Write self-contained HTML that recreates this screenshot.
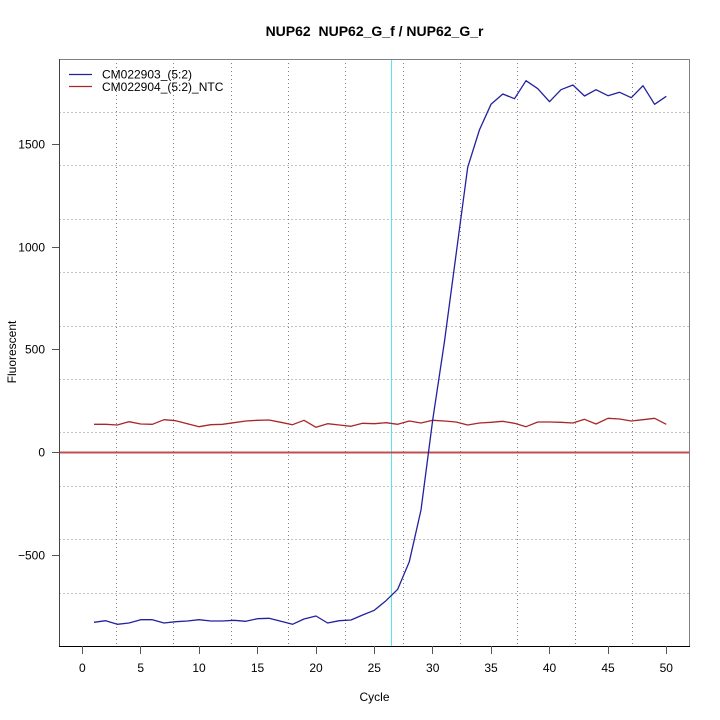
<!DOCTYPE html>
<html>
<head>
<meta charset="utf-8">
<style>
  html,body{margin:0;padding:0;background:#fff;}
  svg{display:block;}
  text{font-family:"Liberation Sans",Arial,sans-serif;fill:#000;}
</style>
</head>
<body>
<svg width="720" height="720" viewBox="0 0 720 720" xmlns="http://www.w3.org/2000/svg">
  <rect x="0" y="0" width="720" height="720" fill="#fff"/>
  <!-- horizontal grid -->
  <g stroke="#c4c4c4" stroke-width="1" stroke-dasharray="2,2">
    <line x1="59" y1="112.5" x2="690" y2="112.5"/>
    <line x1="59" y1="165.5" x2="690" y2="165.5"/>
    <line x1="59" y1="219.5" x2="690" y2="219.5"/>
    <line x1="59" y1="272.5" x2="690" y2="272.5"/>
    <line x1="59" y1="326.5" x2="690" y2="326.5"/>
    <line x1="59" y1="379.5" x2="690" y2="379.5"/>
    <line x1="59" y1="432.5" x2="690" y2="432.5"/>
    <line x1="59" y1="486.5" x2="690" y2="486.5"/>
    <line x1="59" y1="539.5" x2="690" y2="539.5"/>
    <line x1="59" y1="593.5" x2="690" y2="593.5"/>
  </g>
  <!-- vertical grid -->
  <g stroke="#808080" stroke-width="1" stroke-dasharray="1,3">
    <line x1="116.5" y1="59" x2="116.5" y2="646"/>
    <line x1="173.5" y1="59" x2="173.5" y2="646"/>
    <line x1="231.5" y1="59" x2="231.5" y2="646"/>
    <line x1="288.5" y1="59" x2="288.5" y2="646"/>
    <line x1="345.5" y1="59" x2="345.5" y2="646"/>
    <line x1="403.5" y1="59" x2="403.5" y2="646"/>
    <line x1="460.5" y1="59" x2="460.5" y2="646"/>
    <line x1="517.5" y1="59" x2="517.5" y2="646"/>
    <line x1="575.5" y1="59" x2="575.5" y2="646"/>
    <line x1="632.5" y1="59" x2="632.5" y2="646"/>
  </g>
  <!-- threshold / ct line -->
  <line x1="391.5" y1="59" x2="391.5" y2="646" stroke="#55e8e8" stroke-width="1"/>
  <!-- zero line -->
  <line x1="59" y1="452.5" x2="690" y2="452.5" stroke="#c05050" stroke-width="2"/>

  <!-- red series -->
  <polyline fill="none" stroke="#a82828" stroke-width="1.3" stroke-linejoin="round" points="
    94,424.3 105.7,424.3 117.3,425 129,421.7 140.7,424 152.4,424.3 164,419.7 175.7,420.7 187.4,423.7 199,426.7
    210.8,424.7 222.5,424.3 234,422.7 245.8,421 257.5,420.3 269,420 280.9,422.3 292.5,424.7 304,420.3 316,427.3
    327.6,423.7 339.3,425 351,426.3 362.6,423.3 374.3,423.7 386,422.7 397.7,424.3 409.3,421 421,423 432.7,420.3
    444.4,421 456,422 467.7,425 479.4,423 491,422.3 502.8,421.3 514.5,423.3 526,426.7 537.8,422 549.5,422
    561,422.3 572.9,423 584.5,419.3 596,424 608,418.3 619.6,419 631.3,421 643,419.7 654.6,418.3 666.3,424.3"/>

  <!-- blue series -->
  <polyline fill="none" stroke="#2222a0" stroke-width="1.3" stroke-linejoin="round" points="
    94,622.3 105.7,620.7 117.3,624.3 129,623 140.7,619.7 152.4,619.7 164,623 175.7,621.7 187.4,621 199,619.7
    210.8,621 222.5,621 234,620.3 245.8,621.3 257.5,618.7 269,618.3 280.9,621.3 292.5,624.3 304,619 316,616
    327.6,623 339.3,620.7 351,620 362.6,615 374.3,610.3 386,600.7 397.7,589.3 409.3,561.7 421,510 432.7,420
    444.4,342 456,255 467.7,167.3 479.4,130 491,104.3 502.8,94 514.5,98.7 526,80.7 537.8,88.7 549.5,101.7
    561,89.7 572.9,85 584.5,96 596,89.7 608,95.7 619.6,92.3 631.3,97.7 643,85.7 654.6,104.3 666.3,96.3"/>

  <!-- box -->
  <rect x="59.5" y="59.5" width="630" height="587" fill="none" stroke="#808080" stroke-width="1"/>
  <line x1="59.5" y1="59" x2="59.5" y2="647" stroke="#444" stroke-width="1"/>
  <line x1="59" y1="646.5" x2="690" y2="646.5" stroke="#000" stroke-width="1"/>

  <!-- x ticks -->
  <g stroke="#555" stroke-width="1">
    <line x1="82.5" y1="646" x2="82.5" y2="654"/>
    <line x1="140.5" y1="646" x2="140.5" y2="654"/>
    <line x1="199.5" y1="646" x2="199.5" y2="654"/>
    <line x1="257.5" y1="646" x2="257.5" y2="654"/>
    <line x1="316.5" y1="646" x2="316.5" y2="654"/>
    <line x1="374.5" y1="646" x2="374.5" y2="654"/>
    <line x1="432.5" y1="646" x2="432.5" y2="654"/>
    <line x1="491.5" y1="646" x2="491.5" y2="654"/>
    <line x1="549.5" y1="646" x2="549.5" y2="654"/>
    <line x1="608.5" y1="646" x2="608.5" y2="654"/>
    <line x1="666.5" y1="646" x2="666.5" y2="654"/>
  </g>
  <g font-size="12" text-anchor="middle">
    <text x="82.3" y="672">0</text>
    <text x="140.7" y="672">5</text>
    <text x="199" y="672">10</text>
    <text x="257.5" y="672">15</text>
    <text x="316" y="672">20</text>
    <text x="374.3" y="672">25</text>
    <text x="432.7" y="672">30</text>
    <text x="491" y="672">35</text>
    <text x="549.5" y="672">40</text>
    <text x="608" y="672">45</text>
    <text x="666.3" y="672">50</text>
  </g>

  <!-- y ticks -->
  <g stroke="#555" stroke-width="1">
    <line x1="52" y1="144.5" x2="59" y2="144.5"/>
    <line x1="52" y1="247.5" x2="59" y2="247.5"/>
    <line x1="52" y1="349.5" x2="59" y2="349.5"/>
    <line x1="52" y1="452.5" x2="59" y2="452.5"/>
    <line x1="52" y1="555.5" x2="59" y2="555.5"/>
  </g>
  <g font-size="12" text-anchor="end">
    <text x="45" y="148.5">1500</text>
    <text x="45" y="251.5">1000</text>
    <text x="45" y="353.5">500</text>
    <text x="45" y="456.5">0</text>
    <text x="45" y="559.5">−500</text>
  </g>

  <!-- axis titles -->
  <text x="374.5" y="701" font-size="12" text-anchor="middle">Cycle</text>
  <text transform="translate(16,352) rotate(-90)" font-size="12" text-anchor="middle">Fluorescent</text>
  <text x="374.5" y="36" font-size="14" font-weight="bold" text-anchor="middle">NUP62&#160; NUP62_G_f / NUP62_G_r</text>

  <!-- legend -->
  <line x1="69" y1="74.5" x2="92" y2="74.5" stroke="#2222a0" stroke-width="1.3"/>
  <line x1="69" y1="86.5" x2="92" y2="86.5" stroke="#a82828" stroke-width="1.3"/>
  <text x="102" y="78.5" font-size="12">CM022903_(5:2)</text>
  <text x="102" y="91" font-size="12">CM022904_(5:2)_NTC</text>
</svg>
</body>
</html>
